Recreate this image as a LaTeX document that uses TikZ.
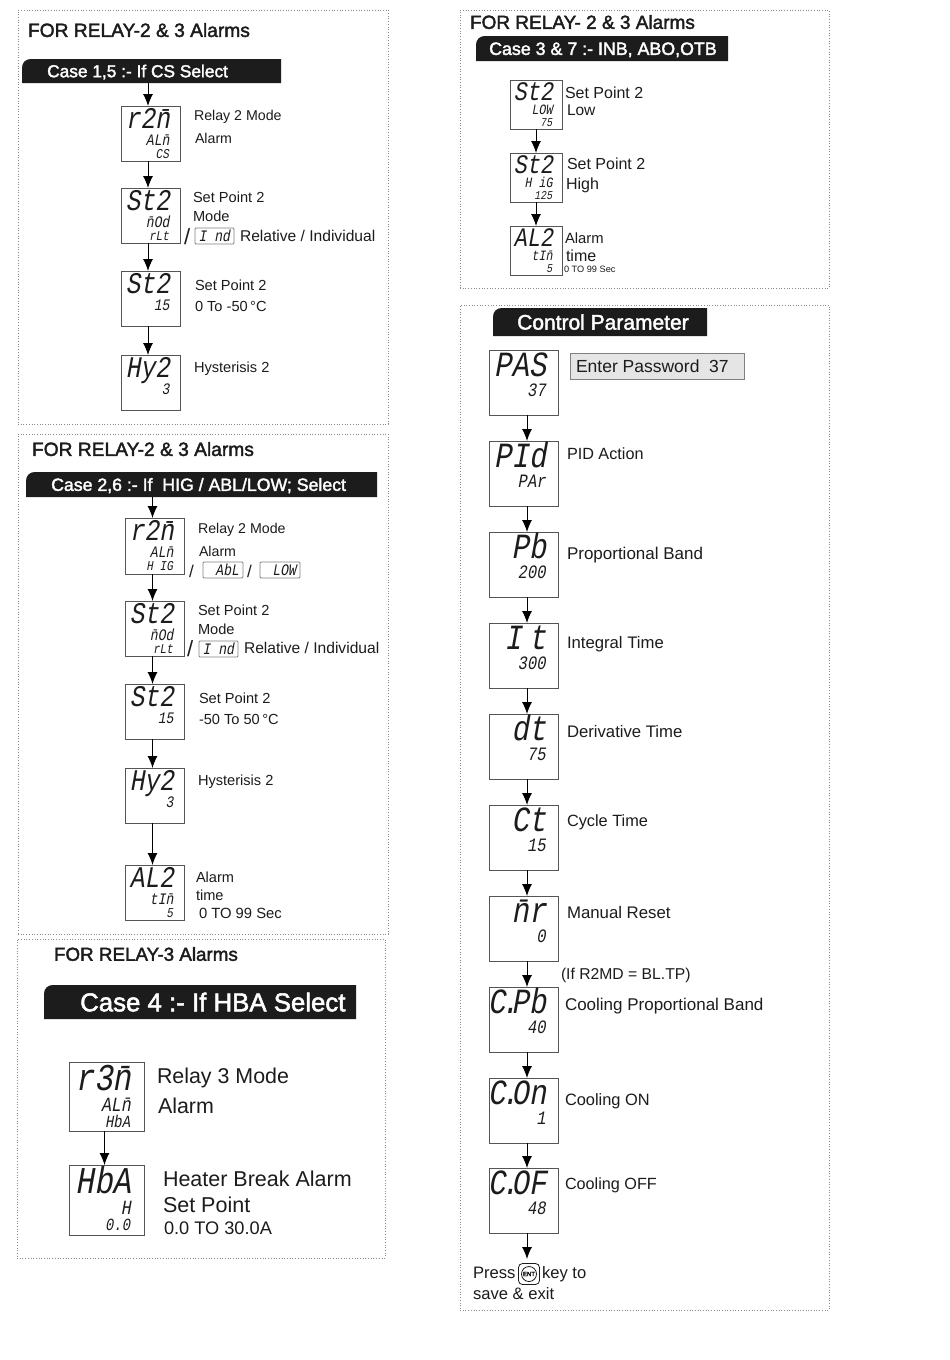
\documentclass[tikz,border=0pt]{standalone}
\usepackage{fontspec}
\usetikzlibrary{arrows.meta,fit}
\setmainfont{Liberation Sans}
\newfontfamily\lcdfont{Liberation Mono}[FakeSlant=0.18,FakeStretch=0.82]
\newfontfamily\headfont{Liberation Sans}[FakeBold=2]
\definecolor{ink}{HTML}{1C1C1C}
\definecolor{edge}{HTML}{555555}
\definecolor{dots}{HTML}{8A8A8A}
\tikzset{
  panel/.style={draw=dots,dotted,line width=0.7pt,inner sep=0pt,outer sep=0pt},
  dispbox/.style={draw=edge,line width=1pt,inner sep=0pt,outer sep=0pt,fill=white},
  smallbox/.style={draw=gray,line width=0.8pt,rounded corners=1pt,inner sep=0pt,outer sep=0pt},
  arr/.style={draw=black,line width=1pt,-{Latex[length=12pt,width=10pt]}},
  lab/.style={anchor=base west,inner sep=0pt,outer sep=0pt,text=ink},
  lcd/.style={anchor=base east,inner sep=0pt,outer sep=0pt,text=ink},
  barfill/.style={fill=ink,draw=none},
  bartxt/.style={anchor=base west,inner sep=0pt,text=white},
  barrect/.style={inner sep=0pt,outer sep=0pt,draw=none}
}
\newcounter{lc}
% label: x, vertical centre, size, text
\newcommand{\lbl}[4]{\stepcounter{lc}\node[lab,font=\fontsize{#3}{#3}\selectfont] (l\arabic{lc}) at ({#1},{#2+0.36*#3}) {#4};}
\newcommand{\hlbl}[4]{\stepcounter{lc}\node[lab,font=\headfont\fontsize{#3}{#3}\selectfont] (l\arabic{lc}) at ({#1},{#2+0.36*#3}) {#4};}
% panel
\newcommand{\panel}[5]{\node[panel,fit={(#2,#3)(#4,#5)}] (#1) {};}
% display: name,x1,y1,w,h,scale,big,mid,low
\newcommand{\disp}[9]{%
  \node[dispbox,fit={(#2,#3)({#2+#4},{#3+#5})}] (#1) {};
  \pgfmathsetmacro\sa{30*#6}\pgfmathsetmacro\sb{16*#6}\pgfmathsetmacro\sc{13.5*#6}
  \node[lcd,font=\lcdfont\fontsize{\sa}{\sa}\selectfont] (#1a) at ({#2+#4-10*#6},{#3+22.5*#6}) {#7};
  \node[lcd,font=\lcdfont\fontsize{\sb}{\sb}\selectfont] (#1b) at ({#2+#4-10.5*#6},{#3+39*#6}) {#8};
  \if\relax\detokenize{#9}\relax\else
  \node[lcd,font=\lcdfont\fontsize{\sc}{\sc}\selectfont] (#1c) at ({#2+#4-11*#6},{#3+52*#6}) {#9};
  \fi}
% inset display: name,x1,y1,x2,y2,text
\newcommand{\inset}[6]{%
  \node[smallbox,fit={(#2,#3)(#4,#5)}] (#1) {};
  \node[lcd,font=\lcdfont\fontsize{16}{16}\selectfont] (#1t) at ({#4-4},{#5-3}) {#6};}
% header bar: name,x1,y1,x2,y2,radius,textx,size,text
\newcommand{\hdr}[9]{%
  \path[barfill] (#2,#5) -- (#2,{#3+#6}) .. controls (#2,{#3+0.4*#6}) and ({#2+0.4*#6},#3) .. ({#2+#6},#3) -- (#4,#3) -- (#4,#5) -- cycle;
  \node[barrect,fit={(#2,#3)(#4,#5)}] (#1) {};
  \node[bartxt,font=\headfont\fontsize{#8}{#8}\selectfont] (#1t) at ({#7},{(#3+#5)/2+0.36*#8}) {#9};}
% connector between boxes, shifted sideways by dx
\newcommand{\conn}[3]{\draw[arr] ([xshift=#3pt]#1.south) -- ([xshift=#3pt]#2.north);}
\newcommand{\lcddot}{\kern-0.12em.\kern-0.2em}
\begin{document}
\begin{tikzpicture}[x=1pt,y=-1pt]
\useasboundingbox[fill=white] (0,0) rectangle (950,1360);

%% Panel 1
\panel{p1}{18}{10}{388}{424}
\hlbl{28}{30}{19.2}{FOR RELAY-2 \& 3 Alarms}
\hdr{b1}{22}{59}{281}{83}{9}{47}{17.3}{Case 1,5 :- If CS Select}
\disp{a1}{121}{106}{59}{55}{1}{r2\=n}{AL\=n}{CS}
\disp{a2}{121}{188}{59}{55}{1}{St2}{\=nOd}{rLt}
\disp{a3}{121}{271}{59}{55}{1}{St2}{15}{}
\disp{a4}{121}{355}{59}{55}{1}{Hy2}{3}{}
\draw[arr] ([xshift=-2.5pt]a1.north |- b1.south) -- ([xshift=-2.5pt]a1.north);
\conn{a1}{a2}{-2.5}
\conn{a2}{a3}{-2.5}
\conn{a3}{a4}{-2.5}
\lbl{194}{115}{14.2}{Relay 2 Mode}
\lbl{195}{138}{14.2}{Alarm}
\lbl{193}{197}{14.6}{Set Point 2}
\lbl{193}{216}{14.6}{Mode}
\lbl{184}{237}{22}{/}
\inset{i1}{195}{228}{234}{244}{I nd}
\lbl{240}{236}{15.6}{Relative / Individual}
\lbl{195}{285}{14.6}{Set Point 2}
\lbl{195}{306}{14.6}{0 To -50\,°C}
\lbl{194}{367}{14.6}{Hysterisis 2}

%% Panel 2
\panel{p2}{18}{434}{388}{934}
\hlbl{32}{449}{19.2}{FOR RELAY-2 \& 3 Alarms}
\hdr{b2}{26}{472}{377}{497}{9}{51}{17.7}{Case 2,6 :- If\ \ HIG / ABL/LOW; Select}
\disp{c1}{125}{518}{59}{56}{1}{r2\=n}{AL\=n}{H IG}
\disp{c2}{125}{601}{59}{55}{1}{St2}{\=nOd}{rLt}
\disp{c3}{125}{684}{59}{55}{1}{St2}{15}{}
\disp{c4}{125}{768}{59}{55}{1}{Hy2}{3}{}
\disp{c5}{125}{865}{59}{55}{1}{AL2}{tI\=n}{5}
\draw[arr] ([xshift=-2pt]c1.north |- b2.south) -- ([xshift=-2pt]c1.north);
\conn{c1}{c2}{-2}
\conn{c2}{c3}{-2}
\conn{c3}{c4}{-2}
\conn{c4}{c5}{-2}
\lbl{198}{528}{14.2}{Relay 2 Mode}
\lbl{199}{551}{14.2}{Alarm}
\lbl{189}{571}{17}{/}
\inset{i2}{203}{562}{243}{578}{AbL}
\lbl{247}{571}{17}{/}
\inset{i3}{260}{562}{300}{578}{LOW}
\lbl{198}{610}{14.6}{Set Point 2}
\lbl{198}{629}{14.6}{Mode}
\lbl{187}{649}{22}{/}
\inset{i4}{199}{641}{238}{657}{I nd}
\lbl{244}{648}{15.6}{Relative / Individual}
\lbl{199}{698}{14.6}{Set Point 2}
\lbl{199}{719}{14.6}{-50 To 50\,°C}
\lbl{198}{780}{14.6}{Hysterisis 2}
\lbl{196}{877}{14.6}{Alarm}
\lbl{196}{895}{14.6}{time}
\lbl{199}{913}{14.8}{0 TO 99 Sec}

%% Panel 3
\panel{p3}{17}{939}{385}{1258}
\hlbl{54}{954}{18.8}{FOR RELAY-3 Alarms}
\hdr{b3}{44}{985}{356}{1019}{9}{80}{25.8}{Case 4 :- If HBA Select}
\disp{d1}{69}{1062}{75}{69}{1.26}{r3\=n}{AL\=n}{HbA}
\disp{d2}{69}{1165}{75}{70}{1.26}{HbA}{H}{0.0}
\conn{d1}{d2}{-2}
\lbl{157}{1076}{21.4}{Relay 3 Mode}
\lbl{158}{1106}{21.4}{Alarm}
\lbl{163}{1179}{21.5}{Heater Break Alarm}
\lbl{163}{1205}{21.5}{Set Point}
\lbl{164}{1228}{18.2}{0.0 TO 30.0A}

%% Panel 4
\panel{p4}{460}{10}{829}{288}
\hlbl{470}{22}{19}{FOR RELAY- 2 \& 3 Alarms}
\hdr{b4}{476}{36}{728}{61}{9}{489}{17.8}{Case 3 \& 7 :- INB, ABO,OTB}
\disp{e1}{510}{80}{52}{49}{0.89}{St2}{LOW}{75}
\disp{e2}{510}{153}{52}{49}{0.89}{St2}{H iG}{125}
\disp{e3}{510}{226}{52}{49}{0.89}{AL2}{tI\=n}{5}
\conn{e1}{e2}{0}
\conn{e2}{e3}{0}
\lbl{565}{93}{16}{Set Point 2}
\lbl{567}{110}{15.5}{Low}
\lbl{567}{164}{16}{Set Point 2}
\lbl{566}{184}{16}{High}
\lbl{565}{238}{14.8}{Alarm}
\lbl{566}{256}{16}{time}
\lbl{564}{269}{9.2}{0 TO 99 Sec}

%% Panel 5
\panel{p5}{460}{305}{829}{1310}
\hdr{b5}{493}{308}{707}{336}{9}{517}{21}{Control Parameter}
\disp{f1}{489}{350}{69}{65}{1.18}{PAS}{37}{}
\disp{f2}{489}{441}{69}{65}{1.18}{PId}{PAr}{}
\disp{f3}{489}{532}{69}{65}{1.18}{Pb}{200}{}
\disp{f4}{489}{623}{69}{65}{1.18}{I\kern0.2em t}{300}{}
\disp{f5}{489}{714}{69}{65}{1.18}{dt}{75}{}
\disp{f6}{489}{805}{69}{65}{1.18}{Ct}{15}{}
\disp{f7}{489}{896}{69}{65}{1.18}{\=nr}{0}{}
\disp{f8}{489}{987}{69}{65}{1.18}{C\lcddot Pb}{40}{}
\disp{f9}{489}{1078}{69}{65}{1.18}{C\lcddot On}{1}{}
\disp{f10}{489}{1168}{69}{65}{1.18}{C\lcddot OF}{48}{}
\conn{f1}{f2}{3.5}
\conn{f2}{f3}{3.5}
\conn{f3}{f4}{3.5}
\conn{f4}{f5}{3.5}
\conn{f5}{f6}{3.5}
\conn{f6}{f7}{3.5}
\conn{f7}{f8}{3.5}
\conn{f8}{f9}{3.5}
\conn{f9}{f10}{3.5}
\coordinate (pressTop) at (527,1259);
\draw[arr] ([xshift=3.5pt]f10.south) -- (pressTop);
\node[draw=gray,fill=black!10,line width=1pt,inner sep=0pt,outer sep=0pt,fit={(570,353)(744,379)}] (pw) {};
\lbl{576}{366}{17.5}{Enter Password\ \ 37}
\lbl{567}{454}{16.2}{PID Action}
\lbl{567}{553}{17}{Proportional Band}
\lbl{567}{642}{16.7}{Integral Time}
\lbl{567}{731}{16.7}{Derivative Time}
\lbl{567}{821}{16.3}{Cycle Time}
\lbl{567}{912}{16.8}{Manual Reset}
\lbl{561}{974}{15.7}{(If R2MD = BL.TP)}
\lbl{565}{1004}{17}{Cooling Proportional Band}
\lbl{565}{1100}{16.4}{Cooling ON}
\lbl{565}{1184}{16.2}{Cooling OFF}
\lbl{473}{1273}{16.6}{Press}
\node[draw=ink,line width=0.8pt,rounded corners=4pt,minimum width=21pt,minimum height=21pt,inner sep=0pt] (entout) at (529,1274) {};
\node[draw=ink,line width=0.8pt,circle,minimum size=15pt,inner sep=0pt,font=\headfont\fontsize{6}{6}\selectfont] (ent) at (529,1274) {ENT};
\lbl{542}{1273}{16.6}{key to}
\lbl{473}{1294}{16.6}{save \& exit}
\end{tikzpicture}
\end{document}
